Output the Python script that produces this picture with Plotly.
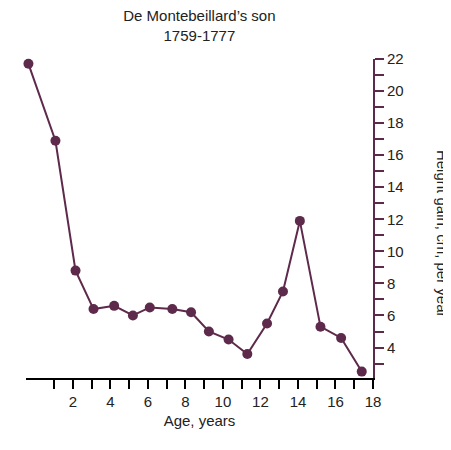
import plotly.graph_objects as go

ages = [-0.37, 1.07, 2.14, 3.1, 4.2, 5.2, 6.1, 7.3, 8.3, 9.25, 10.3, 11.3, 12.35, 13.2, 14.1, 15.2, 16.3, 17.4]
gain = [21.7, 16.9, 8.8, 6.4, 6.6, 6.0, 6.5, 6.4, 6.2, 5.0, 4.5, 3.6, 5.5, 7.5, 11.9, 5.3, 4.6, 2.5]
ytick_vals = list(range(3, 23))
ytick_text = [str(v) if v % 2 == 0 else "" for v in ytick_vals]
xtick_vals = list(range(1, 19))
xtick_text = [str(v) if v % 2 == 0 else "" for v in xtick_vals]

col = "#5e2a4b"
fig = go.Figure(go.Scatter(x=ages, y=gain, mode="lines+markers",
                           line=dict(color=col, width=2),
                           marker=dict(color=col, size=10), cliponaxis=False))
fig.update_layout(
    width=435, height=434, plot_bgcolor="white", paper_bgcolor="white",
    margin=dict(l=18, r=70, t=51, b=64), showlegend=False,
    font=dict(family="Liberation Sans, Arial", size=15, color="#222"),
    title=dict(text="De Montebeillard’s son<br>1759-1777", x=0.44, xanchor="center", y=0.97, yanchor="top",
               font=dict(size=15)),
)
fig.update_xaxes(range=[-0.5, 18], tickvals=xtick_vals, ticktext=xtick_text, ticks="outside",
                 ticklen=9, tickwidth=2, tickcolor="black", showline=True, linecolor="black",
                 linewidth=2, showgrid=False, zeroline=False, tickfont=dict(size=15),
                 title=dict(text="Age, years", standoff=6, font=dict(size=15)))
fig.update_yaxes(range=[2.1, 22], side="right", tickvals=ytick_vals, ticktext=ytick_text,
                 ticks="outside", ticklen=9, tickwidth=2, tickcolor=col, showline=True,
                 linecolor=col, linewidth=2, showgrid=False, zeroline=False, tickfont=dict(size=15))
fig.add_annotation(text="Height gain, cm, per year", textangle=90, xref="paper", yref="paper",
                   x=1.2, xanchor="center", y=0.72, showarrow=False, font=dict(size=15))
fig.write_html("out.html")
